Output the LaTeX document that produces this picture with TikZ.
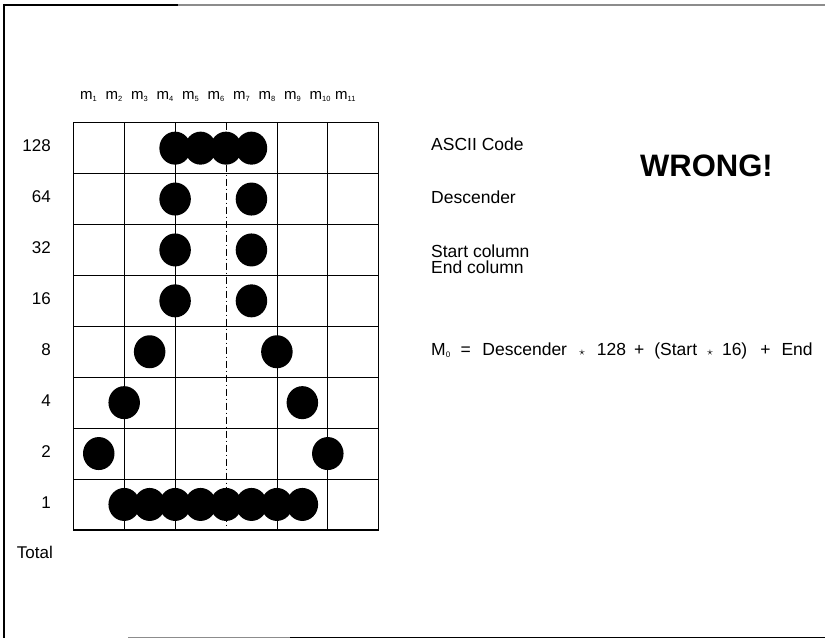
\documentclass[tikz,border=0pt]{standalone}
\usepackage{fontspec}
\setmainfont{Liberation Sans}
\usetikzlibrary{shapes.geometric}
\newcommand{\msub}[1]{m\raisebox{-1.5pt}{\fontsize{7.5}{8}\selectfont #1}}
\begin{document}
\begin{tikzpicture}[x=1pt,y=-1pt,
  dot/.style={ellipse,fill=black,inner sep=0pt,minimum width=31.5pt,minimum height=33pt},
  lbl/.style={font=\fontsize{17.5}{20}\selectfont,inner sep=0pt,anchor=base west},
  rowlbl/.style={font=\fontsize{17}{20}\selectfont,inner sep=0pt,anchor=base east},
  hdr/.style={font=\fontsize{15}{16}\selectfont,inner sep=0pt,anchor=base west},
  frameline/.style={line width=1.5pt},
  gridline/.style={line width=0.8pt},
  brokenline/.style={line width=0.8pt,dash pattern=on 7pt off 3pt on 1pt off 3pt}]
\useasboundingbox (0,0) rectangle (825,639);
% page frame
\draw[frameline] (4,4) -- (4,638);
\draw[frameline] (4,5) -- (178,5);
\draw[frameline,black!45] (178,5) -- (825,5);
\draw[frameline,black!45] (128,637.5) -- (290,637.5);
\draw[frameline] (290,637.5) -- (825,637.5);
% column headers
\foreach \k in {1,...,11}
  \node[hdr] (m\k) at ({80+25.5*(\k-1)},100) {\msub{\k}};
% row labels
\foreach \v [count=\i from 0] in {128,64,32,16,8,4,2,1}
  \node[rowlbl] (row\v) at (51,{148.2+50.9*\i+3.5}) {\v};
\node[rowlbl] (total) at (53,558) {Total};
% grid
\begin{scope}[shift={(73.3,122.7)},x=50.9pt,y=-50.9pt]
  \foreach \c in {1,2,4,5}
    \draw[gridline] (\c,0) -- (\c,8);
  \draw[brokenline] (3,0) -- (3,8);
  \foreach \r in {1,...,7}
    \draw[gridline] (0,\r) -- (6,\r);
  \draw[line width=1.2pt] (0,0) rectangle (6,8);
  % dots: row index, m index
  \foreach \r/\k in {0/4,0/5,0/6,0/7,
                     1/4,1/7,2/4,2/7,3/4,3/7,
                     4/3,4/8,5/2,5/9,6/1,6/10,
                     7/2,7/3,7/4,7/5,7/6,7/7,7/8,7/9}
    \node[dot] (dot-\r-\k) at ({\k/2},{\r+0.5}) {};
\end{scope}
% right-hand texts
\node[lbl] (ascii) at (431,150.7) {ASCII Code};
\node[lbl] (desc) at (431,203.3) {Descender};
\node[font=\fontsize{17.5}{16.5}\selectfont,inner sep=0pt,anchor=base west,align=left] (startend) at (431,274) {Start column\\End column};
\node[font=\fontsize{31}{34}\selectfont\bfseries,inner sep=0pt,anchor=base west] (wrong) at (640,177) {WRONG!};
\node[lbl] (formula) at (431,355) {M\raisebox{-2pt}{\fontsize{8}{9}\selectfont 0}\hspace{10.5pt}=\hspace{11.5pt}Descender\hspace{12pt}$\scriptstyle\star$\hspace{12pt}128\hspace{8pt}+\hspace{10pt}(Start\hspace{10pt}$\scriptstyle\star$\hspace{9pt}16)\hspace{13pt}+\hspace{11pt}End};
\end{tikzpicture}
\end{document}
